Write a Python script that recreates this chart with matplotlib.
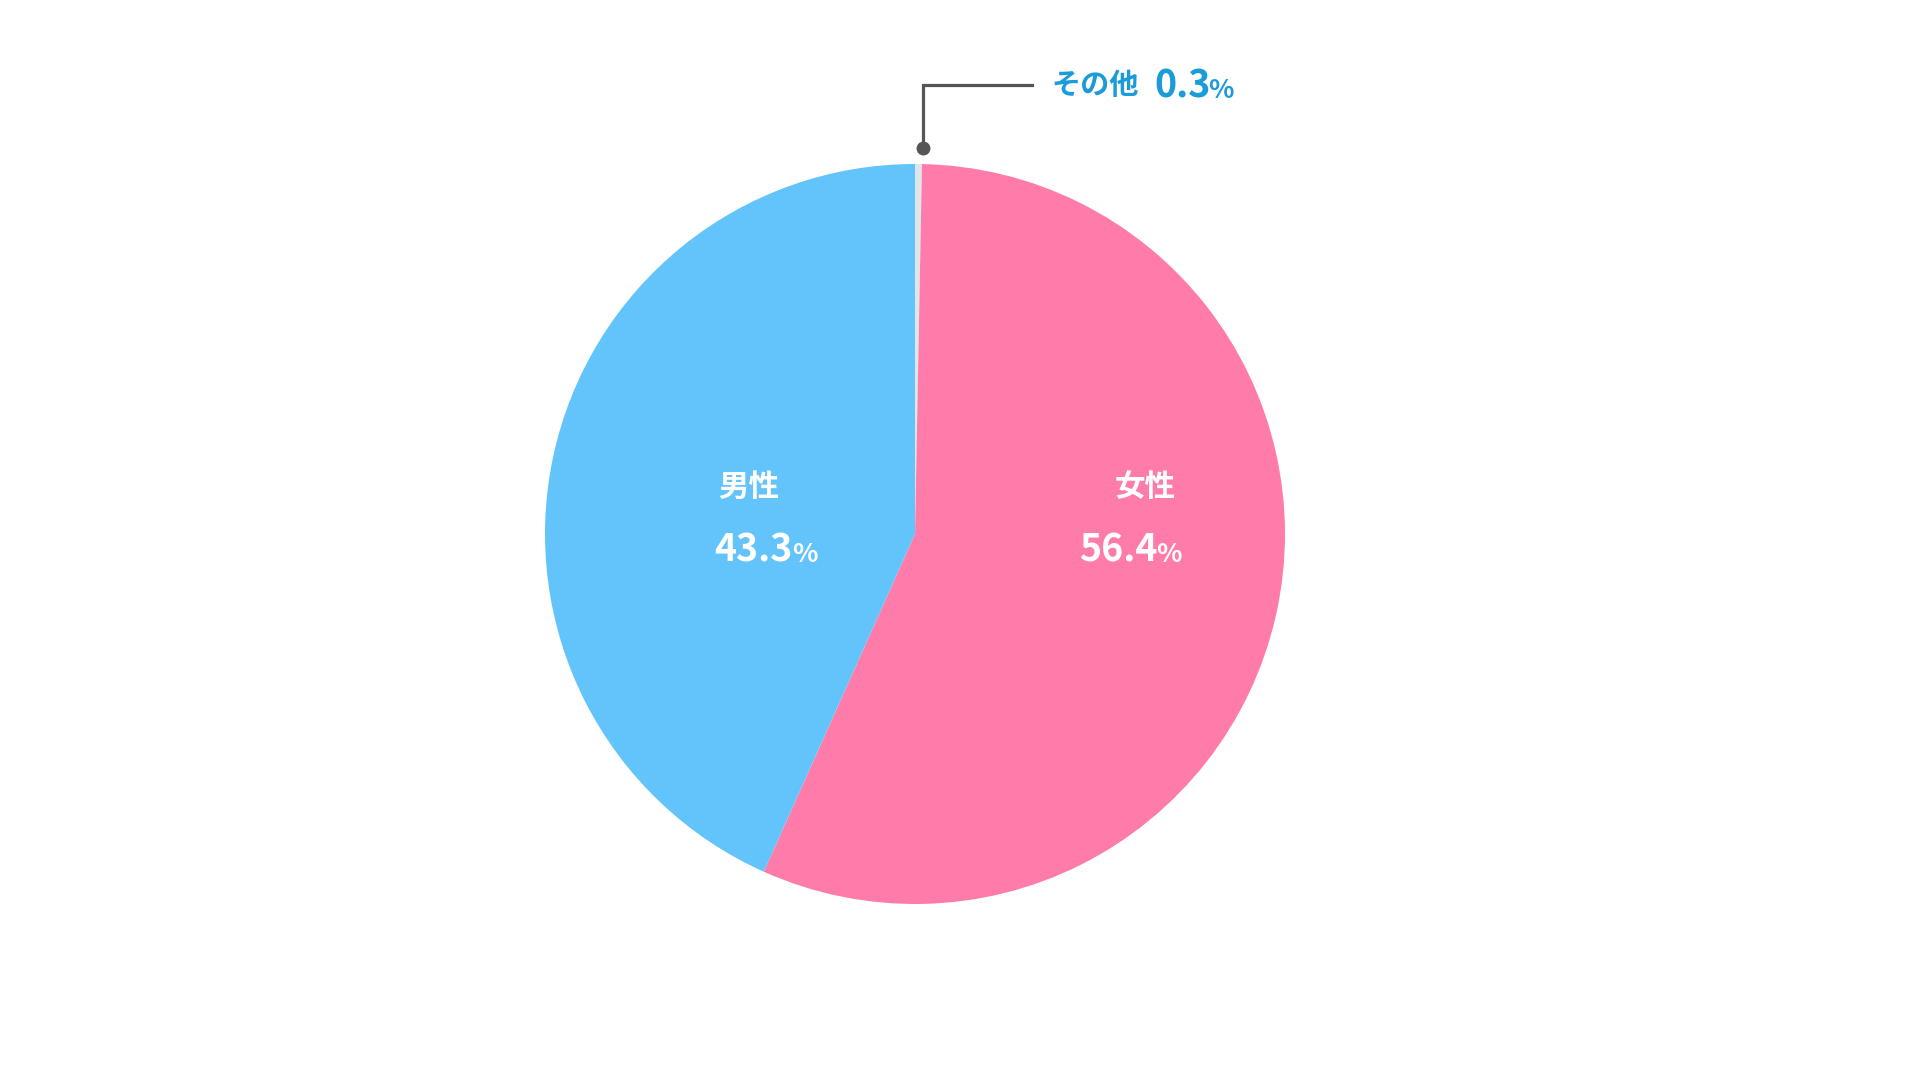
import matplotlib.pyplot as plt

# データ
labels = ['その他', '女性', '男性']
values = [0.3, 56.4, 43.3]
colors = ['#dde6ea', '#ff7ba9', '#62c4fa']

plt.rcParams['font.family'] = ['Noto Sans CJK JP', 'DejaVu Sans']

fig = plt.figure(figsize=(19.2, 10.8), dpi=100)
ax = fig.add_axes([0, 0, 1, 1])

ax.pie(values, colors=colors, startangle=90, counterclock=False,
       center=(915, 546), radius=370, frame=True,
       wedgeprops=dict(linewidth=0))
ax.set_xlim(0, 1920)
ax.set_ylim(0, 1080)
ax.set_aspect('equal')
ax.axis('off')

# ラベル
ax.text(749, 593, labels[2], color='white', fontsize=22, fontweight='bold',
        ha='center', va='center')
ax.text(1145, 593, labels[1], color='white', fontsize=22, fontweight='bold',
        ha='center', va='center')

ax.text(793, 518, f'{values[2]}', color='white', fontsize=27, fontweight='bold',
        ha='right', va='baseline')
ax.text(792, 518, '%', color='white', fontsize=19, fontweight='bold',
        ha='left', va='baseline')
ax.text(1157, 518, f'{values[1]}', color='white', fontsize=27, fontweight='bold',
        ha='right', va='baseline')
ax.text(1156, 518, '%', color='white', fontsize=19, fontweight='bold',
        ha='left', va='baseline')

# その他の引き出し線
ax.plot([923, 923, 1032], [932, 995, 995], color='#555555', linewidth=2.3,
        solid_joinstyle='miter')
ax.plot([923], [932], marker='o', markersize=9, color='#555555')

ax.text(1139, 995, labels[0], color='#1b9bd7', fontsize=21, fontweight='bold',
        ha='right', va='center')
ax.text(1211, 982, f'{values[0]}', color='#1b9bd7', fontsize=27, fontweight='bold',
        ha='right', va='baseline')
ax.text(1208, 982, '%', color='#1b9bd7', fontsize=19, fontweight='bold',
        ha='left', va='baseline')

fig.savefig('out.png', dpi=100, facecolor='white')
